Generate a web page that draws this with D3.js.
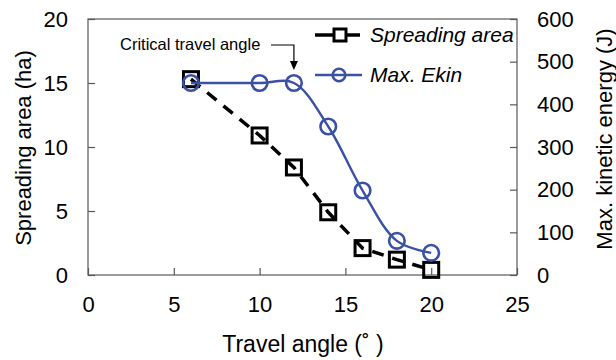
<!DOCTYPE html>
<html>
<head>
<meta charset="utf-8">
<script src="https://cdn.jsdelivr.net/npm/d3@7"></script>
<style>
  body { margin: 0; background: #fff; }
  text { font-family: "Liberation Sans", Arial, sans-serif; fill: #000; }
</style>
</head>
<body>
<div id="chart"></div>
<script>
var travelAngle = [6, 10, 12, 14, 16, 18, 20];
var spreadingArea = [15.3, 10.9, 8.4, 4.9, 2.1, 1.2, 0.4];
var maxEkin = [450, 450, 450, 348, 198, 80, 52];
var xTicks = [0, 5, 10, 15, 20, 25];
var yLeftTicks = [0, 5, 10, 15, 20];
var yRightTicks = [0, 100, 200, 300, 400, 500, 600];

var w = 616, h = 360,
    margin = {top: 19, right: 99, bottom: 85, left: 88},
    width = w - margin.left - margin.right,
    height = h - margin.top - margin.bottom;

var svg = d3.select("#chart").append("svg").attr("width", w).attr("height", h),
    g = svg.append("g").attr("transform", "translate(" + margin.left + "," + margin.top + ")");

var x = d3.scaleLinear().domain([0, 25]).range([0, width]);
var yL = d3.scaleLinear().domain([0, 20]).range([height, 0]);
var yR = d3.scaleLinear().domain([0, 600]).range([height, 0]);

var axisColor = "#595959";

// frame
g.append("rect")
    .attr("width", width).attr("height", height)
    .attr("fill", "none").attr("stroke", axisColor).attr("stroke-width", 1.2);

function styleAxis(sel) {
  sel.select(".domain").remove();
  sel.selectAll(".tick line").attr("stroke", axisColor).attr("stroke-width", 1.2);
  sel.selectAll(".tick text").attr("font-size", 22).attr("fill", "#000")
      .attr("font-family", "Liberation Sans, Arial, sans-serif");
}

g.append("g")
    .attr("transform", "translate(0," + height + ")")
    .call(d3.axisBottom(x).tickValues(xTicks).tickSizeInner(-7).tickSizeOuter(0).tickPadding(21))
    .call(styleAxis);

g.append("g")
    .call(d3.axisLeft(yL).tickValues(yLeftTicks).tickSizeInner(-7).tickSizeOuter(0).tickPadding(20))
    .call(styleAxis);

g.append("g")
    .attr("transform", "translate(" + width + ",0)")
    .call(d3.axisRight(yR).tickValues(yRightTicks).tickSizeInner(-7).tickSizeOuter(0).tickPadding(20))
    .call(styleAxis);

// axis titles
svg.append("text")
    .attr("transform", "translate(31,148) rotate(-90)")
    .attr("text-anchor", "middle").attr("font-size", 22)
    .text("Spreading area (ha)");

svg.append("text")
    .attr("transform", "translate(612,139) rotate(-90)")
    .attr("text-anchor", "middle").attr("font-size", 22)
    .text("Max. kinetic energy (J)");

svg.append("text")
    .attr("x", 303).attr("y", 352)
    .attr("text-anchor", "middle").attr("font-size", 23)
    .text("Travel angle (\u02da )");

var blue = "#3a51a5";

// spreading area: dashed black line with squares
var sData = travelAngle.map(function(d, i) { return {x: d, y: spreadingArea[i]}; });
var eData = travelAngle.map(function(d, i) { return {x: d, y: maxEkin[i]}; });

g.append("path")
    .datum(sData)
    .attr("fill", "none").attr("stroke", "#000").attr("stroke-width", 3.5)
    .attr("stroke-dasharray", "12,9")
    .attr("d", d3.line().x(function(d) { return x(d.x); }).y(function(d) { return yL(d.y); }));

g.selectAll(".sq")
    .data(sData).enter().append("rect")
    .attr("x", function(d) { return x(d.x) - 7.5; })
    .attr("y", function(d) { return yL(d.y) - 7.5; })
    .attr("width", 15).attr("height", 15)
    .attr("fill", "none").attr("stroke", "#000").attr("stroke-width", 3);

g.append("path")
    .datum(eData)
    .attr("fill", "none").attr("stroke", blue).attr("stroke-width", 2.4)
    .attr("d", d3.line().curve(d3.curveCatmullRom.alpha(0.5))
        .x(function(d) { return x(d.x); }).y(function(d) { return yR(d.y); }));

g.selectAll(".ci")
    .data(eData).enter().append("circle")
    .attr("cx", function(d) { return x(d.x); })
    .attr("cy", function(d) { return yR(d.y); })
    .attr("r", 7.8)
    .attr("fill", "none").attr("stroke", blue).attr("stroke-width", 2.6);

// legend
var lg = svg.append("g");
lg.append("line").attr("x1", 315).attr("x2", 360).attr("y1", 35).attr("y2", 35)
    .attr("stroke", "#000").attr("stroke-width", 3.5);
lg.append("rect").attr("x", 334).attr("y", 29).attr("width", 12).attr("height", 12)
    .attr("fill", "#fff").attr("stroke", "#000").attr("stroke-width", 3);
lg.append("text").attr("x", 370).attr("y", 42).attr("font-size", 21)
    .attr("font-style", "italic").text("Spreading area");

lg.append("line").attr("x1", 315).attr("x2", 362).attr("y1", 75).attr("y2", 75)
    .attr("stroke", blue).attr("stroke-width", 2.4);
lg.append("circle").attr("cx", 339).attr("cy", 75).attr("r", 6.3)
    .attr("fill", "none").attr("stroke", blue).attr("stroke-width", 2.6);
lg.append("text").attr("x", 370).attr("y", 82).attr("font-size", 21)
    .attr("font-style", "italic").text("Max. Ekin");

// annotation
var ax = margin.left + x(12);
svg.append("text")
    .attr("x", 120).attr("y", 50)
    .attr("font-family", "Open Sans, sans-serif").attr("font-size", 16.5)
    .text("Critical travel angle");
svg.append("path")
    .attr("d", "M271,45H" + ax + "V64")
    .attr("fill", "none").attr("stroke", "#000").attr("stroke-width", 1.2);
svg.append("path")
    .attr("d", "M" + (ax - 4) + ",61L" + (ax + 4) + ",61L" + ax + ",70Z")
    .attr("fill", "#000");
</script>
</body>
</html>
